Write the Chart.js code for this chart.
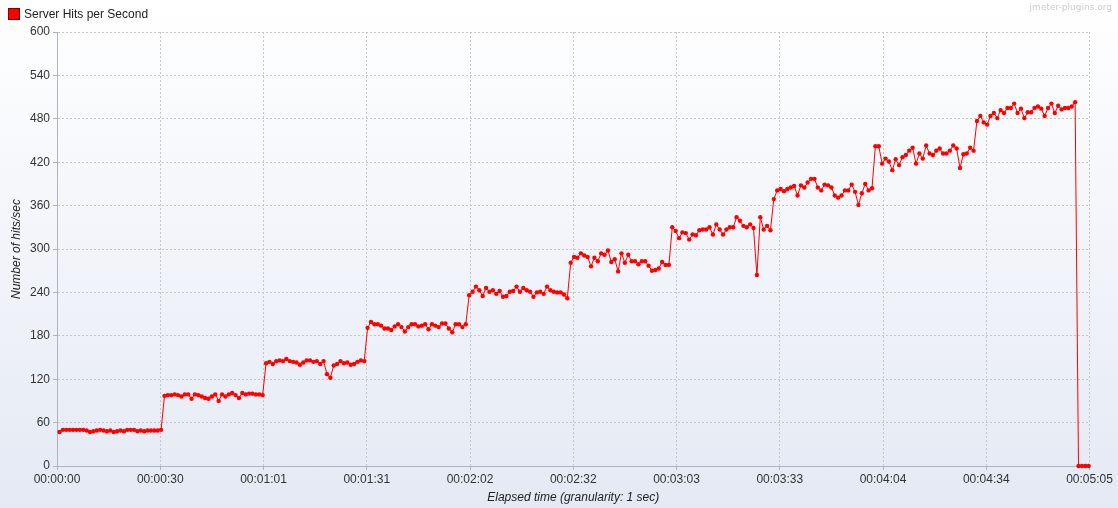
<!DOCTYPE html>
<html><head><meta charset="utf-8">
<script src="https://cdn.jsdelivr.net/npm/chart.js@4.4.1/dist/chart.umd.min.js"></script>
<style>html,body{margin:0;padding:0;background:#fff;overflow:hidden}canvas{display:block}</style>
</head><body>
<canvas id="c" width="1118" height="508"></canvas>
<script>
const SERIES_NAME = 'Server Hits per Second';
const WATERMARK = 'jmeter-plugins.org';
const X_TITLE = 'Elapsed time (granularity: 1 sec)';
const Y_TITLE = 'Number of hits/sec';
const START_SEC = 0.75; // elapsed time of first sample
const hitsPerSecond = [
  47,50,50,50,50,50,50,50,49,47,48,49,50,49,48,49,47,48,49,48,50,50,50,48,49,48,49,49,49,49,50,
  97,98,98,99,98,96,99,99,93,99,98,96,94,93,96,99,90,99,96,99,101,98,94,101,99,100,100,99,99,98,
  142,144,141,145,146,145,148,145,144,143,140,143,146,146,144,145,141,145,127,122,139,141,145,142,143,140,141,144,146,145,
  191,199,196,196,194,190,190,188,193,196,192,186,192,196,196,193,194,196,189,196,194,192,197,197,190,185,196,196,192,196,
  236,241,248,243,235,246,241,243,238,242,234,235,241,242,248,241,246,243,241,234,240,241,238,248,243,241,240,240,237,232,
  281,289,288,294,291,289,276,288,283,294,292,298,282,286,269,294,281,292,283,283,279,283,283,277,270,271,273,282,278,278,
  330,325,315,323,322,313,320,319,326,327,327,330,320,334,327,320,327,330,330,344,339,332,330,334,329,264,344,327,332,326,
  369,381,383,380,383,385,387,374,388,385,392,397,397,385,381,389,388,385,374,371,374,381,381,389,379,361,377,390,381,384,
  442,442,418,425,421,409,424,416,427,430,436,440,418,432,425,443,432,430,436,439,432,432,436,443,439,412,431,432,440,436,
  477,484,475,472,484,488,481,492,488,495,495,501,488,494,481,489,489,495,497,494,484,495,501,488,498,493,495,495,497,503,
  0,0,0,0
];
const xTickSeconds = [0,30.5,61,91.5,122,152.5,183,213.5,244,274.5,305];
const yMin = 0, yMax = 600, yStep = 60;

const FONT = "'Liberation Sans', Arial, sans-serif";

function fmtTime(sec){
  const s = Math.floor(sec + 1e-6);
  const h = Math.floor(s/3600), m = Math.floor((s%3600)/60), ss = s%60;
  const p = n => String(n).padStart(2,'0');
  return p(h)+':'+p(m)+':'+p(ss);
}

const bgPlugin = {
  id:'bg',
  beforeDraw(chart){
    const {ctx,width,height} = chart;
    const g = ctx.createLinearGradient(0,0,0,height);
    g.addColorStop(0,'#ffffff');
    g.addColorStop(1,'#e4e9f4');
    ctx.save(); ctx.fillStyle=g; ctx.fillRect(0,0,width,height); ctx.restore();
  },
  afterDraw(chart){
    const {ctx,width} = chart;
    ctx.save();
    ctx.fillStyle='#ff0000'; ctx.fillRect(9,9,11,11);
    ctx.strokeStyle='#7a0000'; ctx.lineWidth=1; ctx.strokeRect(8.5,8.5,11,11);
    ctx.fillStyle='#222'; ctx.font='12px '+FONT; ctx.textBaseline='middle'; ctx.textAlign='left';
    ctx.fillText(SERIES_NAME,24,15);
    ctx.fillStyle='#cccccc'; ctx.font="9px 'DejaVu Sans', sans-serif"; ctx.textAlign='right';
    ctx.fillText(WATERMARK,width-6,8);
    ctx.restore();
  }
};

new Chart(document.getElementById('c'),{
  type:'line',
  data:{datasets:[{
    label:SERIES_NAME,
    data:hitsPerSecond.map((v,i)=>({x:START_SEC+i,y:v})),
    borderColor:'#ff0000',
    backgroundColor:'#ff0000',
    borderWidth:1,
    pointRadius:2.2,
    pointBorderWidth:0,
    pointBackgroundColor:'#ff0000',
    tension:0,
    clip:4
  }]},
  options:{
    responsive:false,
    animation:false,
    layout:{padding:{top:32,right:28.5,bottom:0,left:0}},
    plugins:{legend:{display:false},tooltip:{enabled:false}},
    scales:{
      x:{
        type:'linear', min:0, max:305,
        afterBuildTicks(s){ s.ticks = xTickSeconds.map(v=>({value:v})); },
        afterFit(s){ s.height = 42; },
        ticks:{ callback:v=>fmtTime(v), color:'#333', font:{family:FONT,size:12}, padding:2, maxRotation:0, autoSkip:false },
        grid:{ color:'#c6c6c6', tickLength:4, tickColor:'#b0b4c0', tickBorderDash:[] },
        border:{ display:true, color:'#b0b4c0', width:1, dash:[2,2] },
        title:{ display:true, text:X_TITLE, color:'#222', font:{family:FONT,size:12,style:'italic'}, padding:{top:0,bottom:3} }
      },
      y:{
        type:'linear', min:yMin, max:yMax,
        ticks:{ stepSize:yStep, color:'#333', font:{family:FONT,size:12}, padding:3 },
        afterFit(s){ s.width = 57; },
        grid:{ color:'#c6c6c6', tickLength:4, tickColor:'#b0b4c0', tickBorderDash:[] },
        border:{ display:true, color:'#b0b4c0', width:1, dash:[2,2] },
        title:{ display:true, text:Y_TITLE, color:'#222', font:{family:FONT,size:12,style:'italic'}, padding:{top:9,bottom:0} }
      }
    }
  },
  plugins:[bgPlugin]
});
</script>
</body></html>
